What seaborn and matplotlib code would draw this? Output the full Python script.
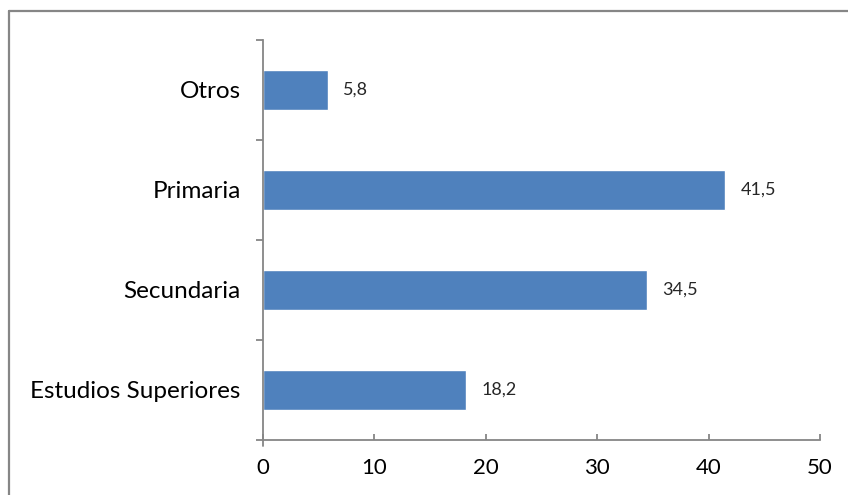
import matplotlib
matplotlib.use("Agg")
import matplotlib.pyplot as plt
from matplotlib.lines import Line2D
import pandas as pd
import seaborn as sns

categorias = ["Otros", "Primaria", "Secundaria", "Estudios Superiores"]
valores = [5.8, 41.5, 34.5, 18.2]
xticks = [0, 10, 20, 30, 40, 50]

df = pd.DataFrame({"categoria": categorias, "valor": valores})

sns.set_theme(style="white")
plt.rcParams['font.family'] = ['Lato', 'DejaVu Sans']

gris = "#868686"
fig = plt.figure(figsize=(8.48, 4.95), dpi=100)
ax = fig.add_axes([263 / 848, 1 - 440 / 495, (820 - 263) / 848, 400 / 495])

sns.barplot(data=df, x="valor", y="categoria", order=categorias, color="#4F81BD",
            saturation=1, width=0.4, ax=ax)

ax.set_xlim(0, 50)
ax.set_ylim(3.5, -0.5)
ax.set_xticks(xticks)
ax.set_xlabel("")
ax.set_ylabel("")

for s in ["top", "right"]:
    ax.spines[s].set_visible(False)
for s in ["left", "bottom"]:
    ax.spines[s].set_color(gris)
    ax.spines[s].set_linewidth(1.3)

ax.set_yticks([-0.5, 0.5, 1.5, 2.5, 3.5], minor=True)
ax.tick_params(axis="y", which="major", length=0, pad=16, labelsize=17.5, labelcolor="black")
ax.tick_params(axis="y", which="minor", length=5, width=1.3, color=gris, direction="out", left=True)
ax.tick_params(axis="x", which="major", length=4.5, width=1.3, color=gris, direction="in",
               pad=13, labelsize=16, labelcolor="black", bottom=True)

# small extension of the vertical axis below the horizontal one
ax.plot([0, 0], [3.5, 3.56], color=gris, lw=1.3, clip_on=False)

for i, v in enumerate(valores):
    ax.annotate(f"{v:.1f}".replace(".", ","), xy=(v, i), xytext=(11, 0),
                textcoords="offset points", va="center", ha="left", fontsize=13)

# frame of the chart area (only left and top edges are visible)
fig.add_artist(Line2D([9 / 848, 9 / 848], [0, 1 - 10.5 / 495], color=gris, lw=1.6))
fig.add_artist(Line2D([9 / 848, 1], [1 - 10.5 / 495, 1 - 10.5 / 495], color=gris, lw=1.6))

fig.savefig("out.png", dpi=100)
